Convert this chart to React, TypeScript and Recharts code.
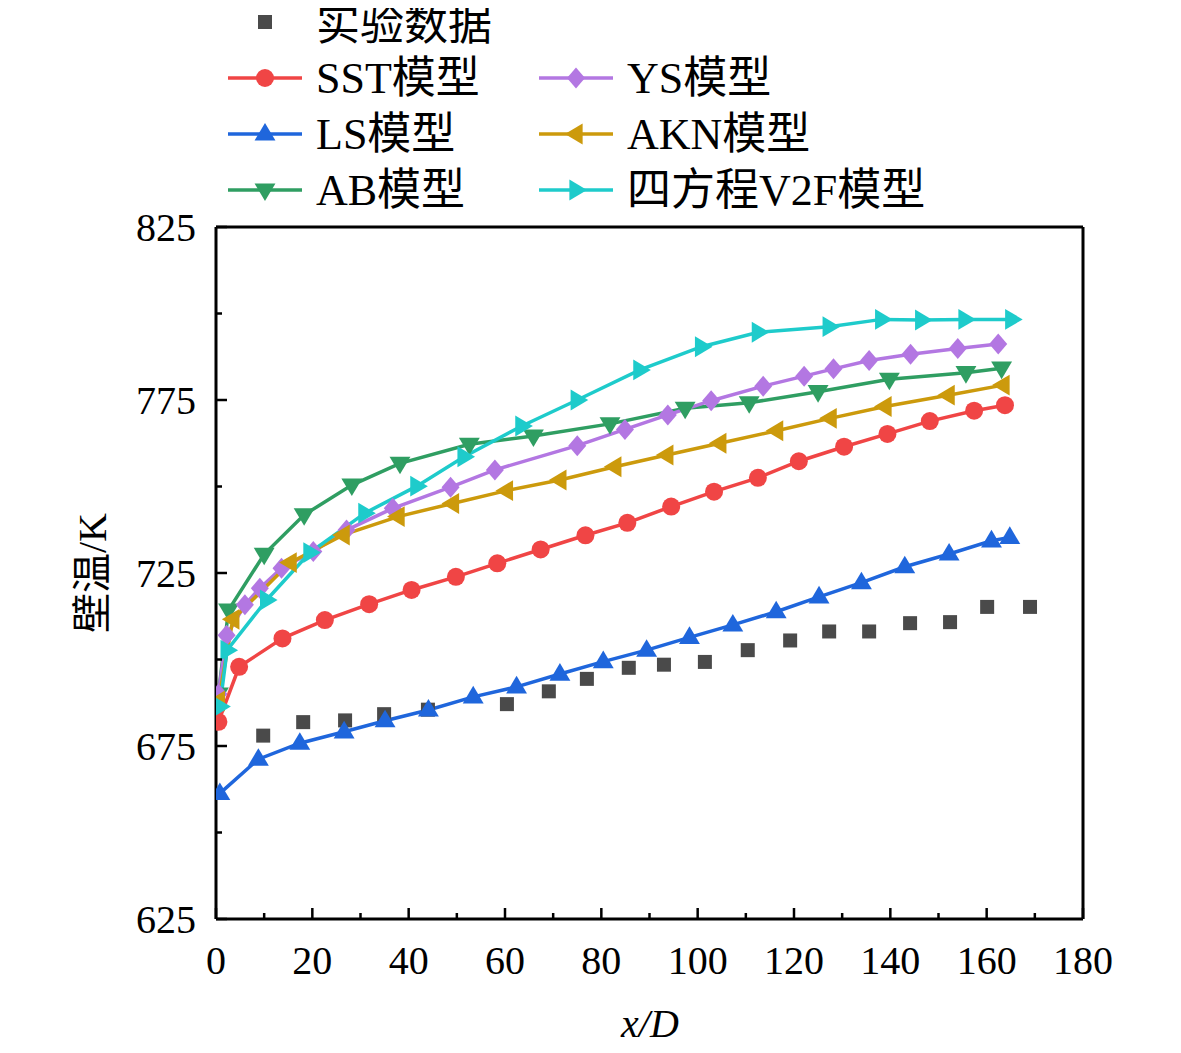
import { ComposedChart, Line, XAxis, YAxis, ReferenceLine } from "recharts";

// values (x/D, wall temperature in K)
const expData: [number, number][] = [
  [9.8, 678.0], [18.1, 681.9], [26.8, 682.4], [34.9, 684.2], [44.0, 685.5],
  [60.4, 687.1], [69.1, 690.8], [77.0, 694.4], [85.7, 697.6], [93.0, 698.5],
  [101.5, 699.3], [110.4, 702.7], [119.2, 705.5], [127.3, 708.1], [135.6, 708.1],
  [144.1, 710.5], [152.4, 710.8], [160.1, 715.2], [169.0, 715.2],
];

const sstData: [number, number][] = [
  [0.5, 682.0], [4.8, 697.9], [13.8, 706.1], [22.6, 711.4], [31.8, 716.0],
  [40.6, 720.1], [49.8, 723.9], [58.4, 727.8], [67.4, 731.8], [76.7, 735.9],
  [85.4, 739.5], [94.5, 744.2], [103.4, 748.5], [112.5, 752.5], [121.0, 757.3],
  [130.4, 761.5], [139.4, 765.2], [148.2, 768.9], [157.4, 771.9], [163.8, 773.5],
];

const lsData: [number, number][] = [
  [0.8, 661.3], [8.8, 671.2], [17.4, 675.8], [26.6, 679.1], [35.1, 682.3],
  [44.1, 685.4], [53.4, 689.2], [62.4, 692.1], [71.4, 695.8], [80.4, 699.4],
  [89.4, 702.7], [98.3, 706.4], [107.3, 710.0], [116.3, 713.8], [125.2, 718.1],
  [134.0, 722.2], [143.0, 726.8], [152.2, 730.5], [161.0, 734.3], [164.8, 735.3],
];

const abData: [number, number][] = [
  [0.5, 690.0], [2.6, 714.3], [10.0, 730.4], [18.3, 741.8], [28.2, 750.4],
  [38.2, 756.7], [52.6, 762.2], [65.9, 764.6], [81.8, 768.1], [97.4, 772.6],
  [110.7, 774.2], [125.0, 777.4], [139.8, 781.0], [155.7, 782.9], [163.1, 784.2],
];

const ysData: [number, number][] = [
  [0.5, 690.0], [2.2, 707.0], [6.0, 715.8], [9.1, 720.6], [13.6, 726.4],
  [20.2, 731.2], [27.1, 737.4], [36.7, 743.7], [48.7, 749.8], [57.9, 754.8],
  [75.0, 761.8], [84.9, 766.5], [93.8, 770.7], [102.8, 774.8], [113.6, 779.0],
  [122.1, 781.9], [128.2, 784.0], [135.6, 786.4], [144.2, 788.2], [154.0, 789.9],
  [162.4, 791.2],
];

const aknData: [number, number][] = [
  [0.5, 688.0], [3.5, 711.6], [15.4, 728.0], [26.4, 736.0], [37.8, 741.3],
  [49.1, 745.1], [60.3, 748.8], [71.4, 751.9], [82.8, 755.7], [93.6, 759.1],
  [104.6, 762.5], [116.4, 766.1], [127.5, 769.7], [138.9, 773.1], [152.0, 776.4],
  [163.4, 779.3],
];

const v2fData: [number, number][] = [
  [0.8, 686.4], [2.3, 702.7], [10.5, 717.2], [19.5, 730.9], [30.9, 742.3],
  [41.7, 750.1], [51.5, 758.6], [63.5, 767.5], [75.0, 775.0], [88.0, 783.7],
  [100.8, 790.4], [112.6, 794.6], [127.3, 796.2], [138.2, 798.3], [146.5, 798.1],
  [155.5, 798.3], [165.2, 798.3],
];

const xMajorTicks = [0, 20, 40, 60, 80, 100, 120, 140, 160, 180];
const xMinorTicks = [10, 30, 50, 70, 90, 110, 130, 150, 170];
const yMajorTicks = [625, 675, 725, 775, 825];
const yMinorTicks = [650, 700, 750, 800];

const FONT = "'Liberation Serif', 'Times New Roman', 'Noto Sans CJK SC', serif";

const C = {
  exp: "#4a4a4a",
  sst: "#f04545",
  ls: "#1f66dc",
  ab: "#2f9e62",
  ys: "#b377e2",
  akn: "#cc9a0c",
  v2f: "#1ecbcb",
};

const toPoints = (arr: [number, number][]) => arr.map(([x, y]) => ({ x, y }));

type Shape = "square" | "circle" | "up" | "down" | "left" | "right" | "diamond";

function Marker({ cx, cy, shape, color }: { cx: number; cy: number; shape: Shape; color: string }) {
  if (cx == null || cy == null) return null;
  const s = 11;
  switch (shape) {
    case "square":
      return <rect x={cx - 7} y={cy - 7} width={14} height={14} fill={color} />;
    case "circle":
      return <circle cx={cx} cy={cy} r={9} fill={color} />;
    case "diamond":
      return <polygon points={`${cx},${cy - 10.5} ${cx + 9},${cy} ${cx},${cy + 10.5} ${cx - 9},${cy}`} fill={color} />;
    case "up":
      return <polygon points={`${cx},${cy - s} ${cx + s * 0.95},${cy + s * 0.6} ${cx - s * 0.95},${cy + s * 0.6}`} fill={color} />;
    case "down":
      return <polygon points={`${cx},${cy + s} ${cx + s * 0.95},${cy - s * 0.6} ${cx - s * 0.95},${cy - s * 0.6}`} fill={color} />;
    case "left":
      return <polygon points={`${cx - s},${cy} ${cx + s * 0.6},${cy - s * 0.95} ${cx + s * 0.6},${cy + s * 0.95}`} fill={color} />;
    case "right":
      return <polygon points={`${cx + s},${cy} ${cx - s * 0.6},${cy - s * 0.95} ${cx - s * 0.6},${cy + s * 0.95}`} fill={color} />;
  }
  return null;
}

const dotFor = (shape: Shape, color: string) => (props: any) => (
  <Marker key={`${shape}-${props.index}`} cx={props.cx} cy={props.cy} shape={shape} color={color} />
);

function XTick(props: any) {
  const { x, y, payload } = props;
  const major = xMajorTicks.includes(payload.value);
  return (
    <g>
      <line x1={x} y1={y} x2={x} y2={y - (major ? 11 : 6)} stroke="#000" strokeWidth={2.5} />
      {major && (
        <text x={x} y={y + 55} textAnchor="middle" fontSize={40} fontFamily={FONT} fill="#000">
          {payload.value}
        </text>
      )}
    </g>
  );
}

function YTick(props: any) {
  const { x, y, payload } = props;
  const major = yMajorTicks.includes(payload.value);
  return (
    <g>
      <line x1={x} y1={y} x2={x + (major ? 11 : 6)} y2={y} stroke="#000" strokeWidth={2.5} />
      {major && (
        <text x={x - 20} y={y + 14} textAnchor="end" fontSize={40} fontFamily={FONT} fill="#000">
          {payload.value}
        </text>
      )}
    </g>
  );
}

const series = [
  { name: "SST模型", data: sstData, color: C.sst, shape: "circle" as Shape },
  { name: "LS模型", data: lsData, color: C.ls, shape: "up" as Shape },
  { name: "AB模型", data: abData, color: C.ab, shape: "down" as Shape },
  { name: "YS模型", data: ysData, color: C.ys, shape: "diamond" as Shape },
  { name: "AKN模型", data: aknData, color: C.akn, shape: "left" as Shape },
  { name: "四方程V2F模型", data: v2fData, color: C.v2f, shape: "right" as Shape },
];

function LegendItem({ x, y, name, color, shape, line, dy = 15 }: { x: number; y: number; name: string; color: string; shape: Shape; line: boolean; dy?: number }) {
  return (
    <g>
      {line && <line x1={x} y1={y} x2={x + 74} y2={y} stroke={color} strokeWidth={3.5} />}
      <Marker cx={x + 37} cy={y} shape={shape} color={color} />
      <text x={x + 88} y={y + dy} fontSize={44} fontFamily={FONT} fill="#000">
        {name}
      </text>
    </g>
  );
}

export default function App() {
  const axisLine = { stroke: "#000", strokeWidth: 3 };
  return (
    <div style={{ position: "relative", width: 1181, height: 1053, margin: "-8px 0 0 -8px", background: "#fff" }}>
      <ComposedChart width={1181} height={1053} margin={{ top: 227, right: 98, bottom: 64, left: 96 }}>
        <XAxis
          dataKey="x"
          type="number"
          domain={[0, 180]}
          allowDataOverflow
          ticks={[...xMajorTicks, ...xMinorTicks].sort((a, b) => a - b)}
          interval={0}
          height={70}
          tickSize={0}
          tickMargin={0}
          tickLine={false}
          tick={<XTick />}
          axisLine={axisLine}
        />
        <YAxis
          dataKey="y"
          type="number"
          domain={[625, 825]}
          allowDataOverflow
          ticks={[...yMajorTicks, ...yMinorTicks].sort((a, b) => a - b)}
          interval={0}
          width={120}
          tickSize={0}
          tickMargin={0}
          tickLine={false}
          tick={<YTick />}
          axisLine={axisLine}
        />
        <ReferenceLine y={825} stroke="#000" strokeWidth={3} ifOverflow="visible" />
        <ReferenceLine x={180} stroke="#000" strokeWidth={3} ifOverflow="visible" />
        <Line
          data={toPoints(expData)}
          dataKey="y"
          name="实验数据"
          stroke="none"
          dot={dotFor("square", C.exp)}
          activeDot={false}
          isAnimationActive={false}
        />
        {series.map((s) => (
          <Line
            key={s.name}
            data={toPoints(s.data)}
            dataKey="y"
            name={s.name}
            type="linear"
            stroke={s.color}
            strokeWidth={3.5}
            dot={dotFor(s.shape, s.color)}
            activeDot={false}
            isAnimationActive={false}
          />
        ))}
      </ComposedChart>
      <svg width={1181} height={1053} style={{ position: "absolute", left: 0, top: 0, pointerEvents: "none" }}>
        <LegendItem x={228} y={22} name="实验数据" color={C.exp} shape="square" line={false} dy={18} />
        <LegendItem x={228} y={78} name="SST模型" color={C.sst} shape="circle" line />
        <LegendItem x={228} y={134} name="LS模型" color={C.ls} shape="up" line />
        <LegendItem x={228} y={190} name="AB模型" color={C.ab} shape="down" line />
        <LegendItem x={539} y={78} name="YS模型" color={C.ys} shape="diamond" line />
        <LegendItem x={539} y={134} name="AKN模型" color={C.akn} shape="left" line />
        <LegendItem x={539} y={190} name="四方程V2F模型" color={C.v2f} shape="right" line />
        <text x={650} y={1037} textAnchor="middle" fontSize={40} fontFamily={FONT} fontStyle="italic" fill="#000">
          x/D
        </text>
        <text
          x={92}
          y={573}
          transform="rotate(-90 92 573)"
          textAnchor="middle"
          dominantBaseline="central"
          fontSize={40}
          fontFamily={FONT}
          fill="#000"
        >
          壁温/K
        </text>
      </svg>
    </div>
  );
}
